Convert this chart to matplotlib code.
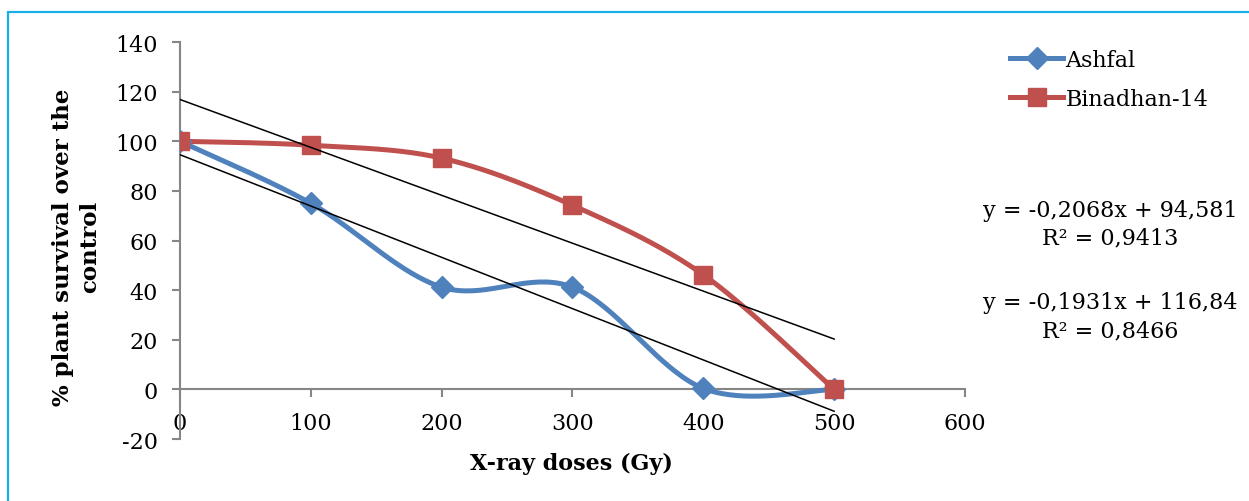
import numpy as np
import matplotlib
matplotlib.use("Agg")
import matplotlib.pyplot as plt
from matplotlib.lines import Line2D
from matplotlib.patches import Rectangle

# data
doses = [0, 100, 200, 300, 400, 500]
ashfal = [100, 75, 41.2, 41.2, 0.4, 0]
binadhan = [100, 98.4, 93.2, 74.2, 46.2, 0]

# linear trendlines (as printed on the chart)
trend_slopes = [-0.2068, -0.1931]
trend_intercepts = [94.581, 116.84]
trend_labels = ["y = -0,2068x + 94,581\nR² = 0,9413",
                "y = -0,1931x + 116,84\nR² = 0,8466"]

x_ticks = [0, 100, 200, 300, 400, 500, 600]
y_ticks = [-20, 0, 20, 40, 60, 80, 100, 120, 140]

BLUE = "#4F81BD"
RED = "#C0504D"
GREY = "#868686"


def smooth(xs, ys, n=40):
    # Catmull-Rom style smoothing, similar to Excel's smoothed lines
    xs = np.asarray(xs, float)
    ys = np.asarray(ys, float)
    px = np.concatenate([[xs[0]], xs, [xs[-1]]])
    py = np.concatenate([[ys[0]], ys, [ys[-1]]])
    out_x, out_y = [], []
    t = np.linspace(0, 1, n)
    h00 = 2 * t**3 - 3 * t**2 + 1
    h10 = t**3 - 2 * t**2 + t
    h01 = -2 * t**3 + 3 * t**2
    h11 = t**3 - t**2
    for i in range(1, len(px) - 2):
        mx0 = (px[i + 1] - px[i - 1]) / 2
        mx1 = (px[i + 2] - px[i]) / 2
        my0 = (py[i + 1] - py[i - 1]) / 2
        my1 = (py[i + 2] - py[i]) / 2
        out_x.extend(h00 * px[i] + h10 * mx0 + h01 * px[i + 1] + h11 * mx1)
        out_y.extend(h00 * py[i] + h10 * my0 + h01 * py[i + 1] + h11 * my1)
    return out_x, out_y


plt.rcParams['font.family'] = ['DejaVu Serif']
plt.rcParams['axes.unicode_minus'] = False
fig = plt.figure(figsize=(12.49, 5.02), dpi=100)
ax = fig.add_axes([0.1441, 0.1235, 0.6285, 0.7908])

# series
sx, sy = smooth(doses, ashfal)
ax.plot(sx, sy, color=BLUE, lw=3.6, solid_capstyle='round', zorder=3)
ax.plot(doses, ashfal, ls='none', marker='D', ms=11, color=BLUE, zorder=4)
sx, sy = smooth(doses, binadhan)
ax.plot(sx, sy, color=RED, lw=3.6, solid_capstyle='round', zorder=3)
ax.plot(doses, binadhan, ls='none', marker='s', ms=12.5, color=RED, zorder=4)

# trendlines
for m, b in zip(trend_slopes, trend_intercepts):
    tx = np.array([doses[0], doses[-1]])
    ax.plot(tx, m * tx + b, color='black', lw=1.1, zorder=5)

ax.set_xlim(0, 600)
ax.set_ylim(-20, 140)
ax.set_xticks(x_ticks)
ax.set_yticks(y_ticks)
ax.spines['top'].set_visible(False)
ax.spines['right'].set_visible(False)
ax.spines['bottom'].set_position(('data', 0))
for s in ['left', 'bottom']:
    ax.spines[s].set_color(GREY)
    ax.spines[s].set_linewidth(1.5)
ax.tick_params(axis='both', direction='out', length=6, width=1.5, color=GREY,
               labelsize=16)
ax.tick_params(axis='y', pad=10)
ax.tick_params(axis='x', pad=10)
ax.patch.set_alpha(0)

fig.text(571 / 1249, 1 - 464 / 502, "X-ray doses (Gy)", fontsize=16,
         fontweight='bold', ha='center', va='center')
fig.text(77 / 1249, 1 - 247 / 502, "% plant survival over the\ncontrol",
         fontsize=16.5, fontweight='bold', ha='center', va='center',
         rotation=90, multialignment='center', linespacing=1.3)

# legend
handles = [Line2D([], [], color=BLUE, lw=3.6, marker='D', ms=11),
           Line2D([], [], color=RED, lw=3.6, marker='s', ms=12.5)]
fig.legend(handles, ["Ashfal", "Binadhan-14"], loc='upper left',
           bbox_to_anchor=(1010 / 1249, 1 - 50 / 502), frameon=False,
           fontsize=16, handlelength=2.4, handletextpad=0.1,
           labelspacing=0.75, borderaxespad=0, borderpad=0)

# trendline equations
fig.text(1110 / 1249, 1 - 224.5 / 502, trend_labels[0], fontsize=16,
         ha='center', va='center', multialignment='center', linespacing=1.35)
fig.text(1110 / 1249, 1 - 317 / 502, trend_labels[1], fontsize=16,
         ha='center', va='center', multialignment='center', linespacing=1.35)

# light blue frame (right/bottom edges fall outside the picture)
fig.patches.append(Rectangle((8 / 1249, -0.05), 1.1, 1 - 13 / 502 + 0.05,
                             transform=fig.transFigure, fill=False,
                             edgecolor='#1AAEE6', lw=1.6))

fig.savefig("out.png", dpi=100)
